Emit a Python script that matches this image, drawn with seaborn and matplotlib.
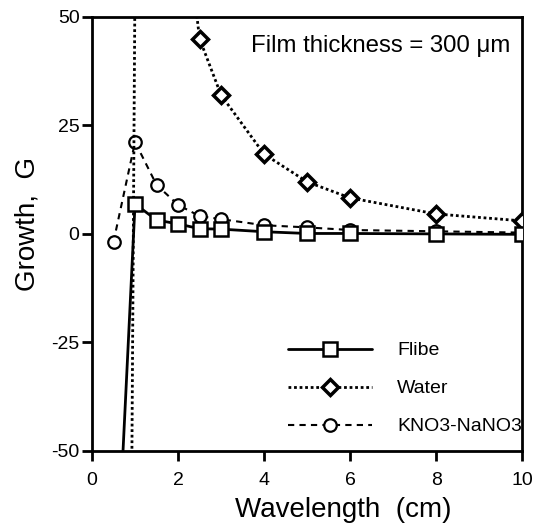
import numpy as np
import pandas as pd
import matplotlib
matplotlib.use("Agg")
import matplotlib.pyplot as plt
import seaborn as sns

# values
flibe_x = [0.5, 1, 1.5, 2, 2.5, 3, 4, 5, 6, 8, 10]
flibe_g = [-95, 6.9, 3.2, 2.3, 1.2, 1.1, 0.5, 0.1, 0.1, 0.0, -0.1]

water_x = [0.5, 1, 2, 2.5, 3, 4, 5, 6, 8, 10]
water_g = [-700, 60, 87, 45, 32, 18.4, 12.0, 8.3, 4.6, 3.0]

kno3_x = [0.5, 1, 1.5, 2, 2.5, 3, 4, 5, 6, 8, 10]
kno3_g = [-1.8, 21.2, 11.3, 6.7, 4.1, 3.4, 2.0, 1.5, 0.9, 0.6, 0.3]

sns.set_style("ticks")
plt.rcParams['font.family'] = ['Liberation Sans', 'DejaVu Sans']
plt.rcParams['axes.unicode_minus'] = False
plt.rcParams['text.color'] = 'black'
plt.rcParams['axes.labelcolor'] = 'black'

fig = plt.figure(figsize=(5.35, 5.31), dpi=100)
ax = fig.add_axes([0.172, 0.151, 0.804, 0.817])

flibe = pd.DataFrame({'x': flibe_x, 'g': flibe_g})
water = pd.DataFrame({'x': water_x, 'g': water_g})
kno3 = pd.DataFrame({'x': kno3_x, 'g': kno3_g})

sns.lineplot(data=kno3, x='x', y='g', ax=ax, color='black', linestyle=(0, (3, 2.5)),
             linewidth=1.5, marker='o', markersize=9, markerfacecolor='white',
             markeredgecolor='black', markeredgewidth=1.6, label='KNO3-NaNO3', zorder=2)
sns.lineplot(data=water, x='x', y='g', ax=ax, color='black', linestyle=(0, (1, 1)),
             linewidth=2, marker='D', markersize=8, markerfacecolor='white',
             markeredgecolor='black', markeredgewidth=2.5, label='Water', zorder=3)
sns.lineplot(data=flibe, x='x', y='g', ax=ax, color='black', linestyle='-',
             linewidth=2, marker='s', markersize=10, markerfacecolor='white',
             markeredgecolor='black', markeredgewidth=1.8, label='Flibe', zorder=4)

ax.set_xlim(0, 10)
ax.set_ylim(-50, 50)
ax.set_xticks([0, 2, 4, 6, 8, 10])
ax.set_yticks([-50, -25, 0, 25, 50])
ax.set_yticklabels(['-50', '-25', '0', '25', '50'])
ax.tick_params(direction='out', length=7, width=2, labelsize=14, colors='black')
ax.tick_params(axis='x', pad=8)
ax.tick_params(axis='y', pad=2)
for s in ax.spines.values():
    s.set_linewidth(2)
    s.set_color('black')

ax.set_xlabel('Wavelength  (cm)', fontsize=20, va='center')
ax.set_ylabel('Growth,  G', fontsize=20, va='center')
ax.xaxis.set_label_coords(0.584, -0.136)
ax.yaxis.set_label_coords(-0.15, 0.523)

ax.text(0.972, 0.958, 'Film thickness = 300 \u03bcm', transform=ax.transAxes,
        ha='right', va='top', fontsize=17.3)

handles, labels = ax.get_legend_handles_labels()
order = [2, 1, 0]
ax.legend([handles[i] for i in order], [labels[i] for i in order],
          loc='lower right', bbox_to_anchor=(1.04, -0.005), frameon=False,
          handlelength=4.3, fontsize=14, labelspacing=1.05, handletextpad=1.3)

fig.savefig('out.png', dpi=100)
